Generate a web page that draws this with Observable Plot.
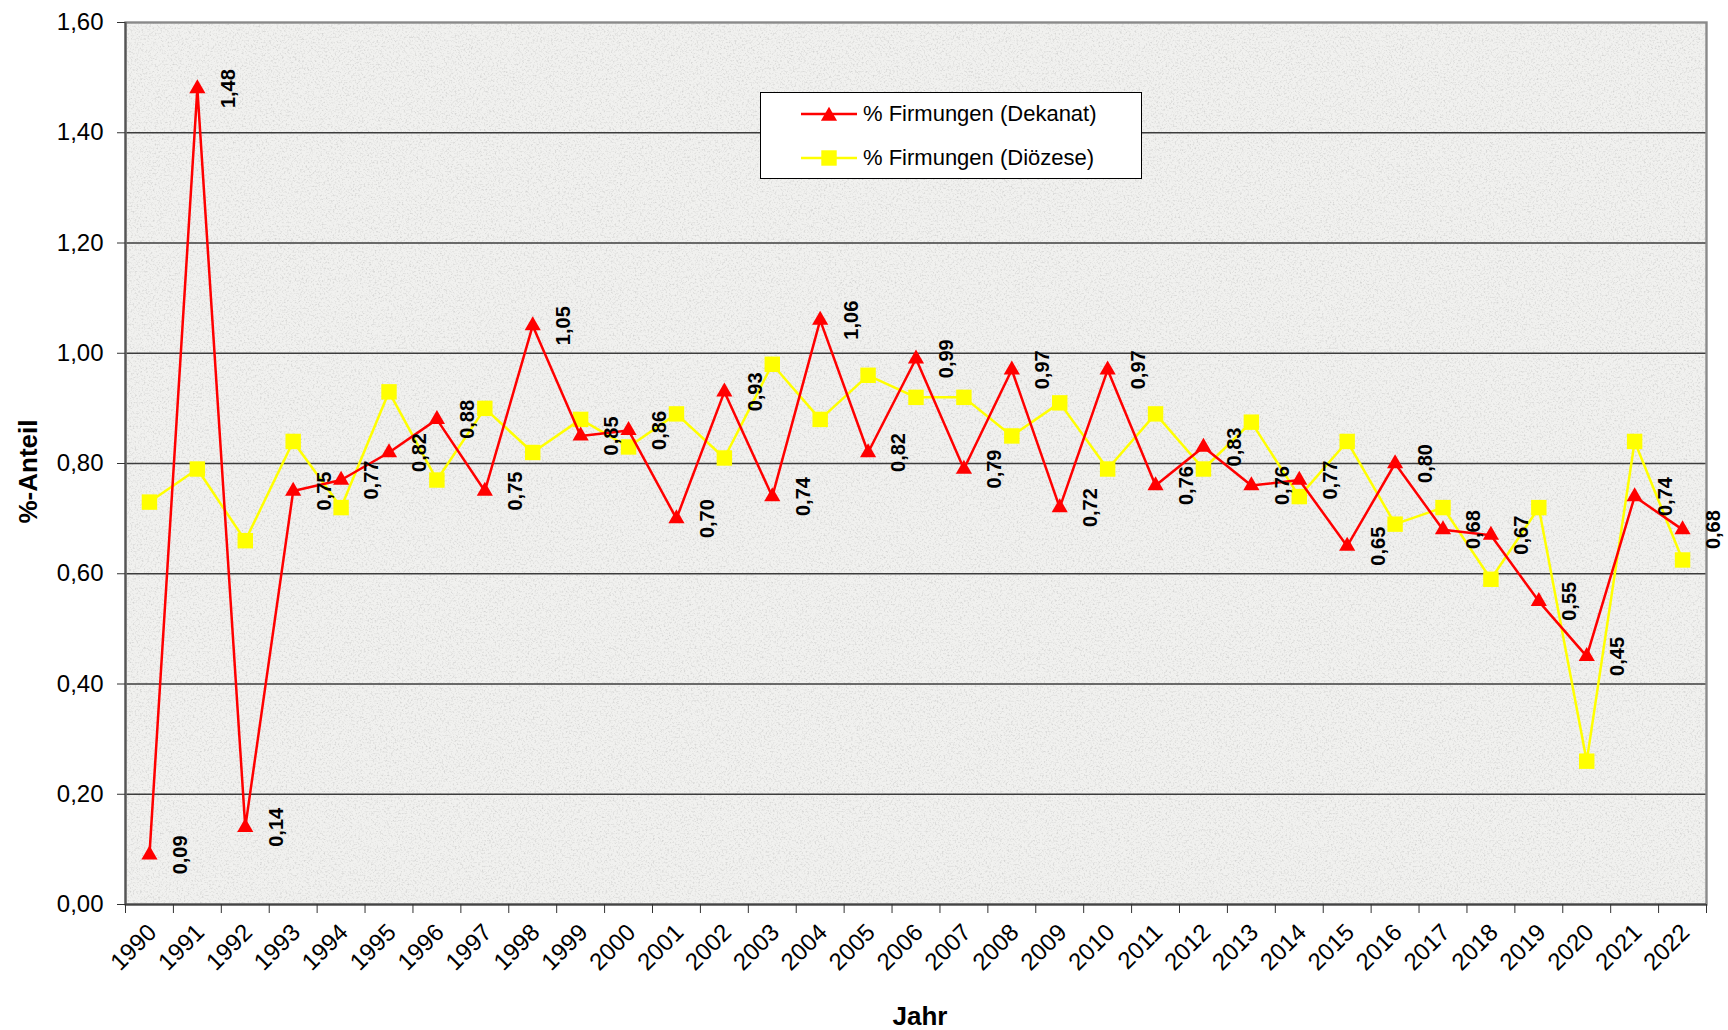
<!DOCTYPE html>
<html>
<head>
<meta charset="utf-8">
<script src="https://cdn.jsdelivr.net/npm/d3@7"></script>
<script src="https://cdn.jsdelivr.net/npm/@observablehq/plot@0.6"></script>
<style>
  html, body { margin: 0; padding: 0; background: #fff; }
  #wrap { position: relative; width: 1728px; height: 1030px; font-family: Arial, "Liberation Sans", sans-serif; }
  #legend { position: absolute; left: 760px; top: 92px; width: 380px; height: 85px; background: #fff; border: 1.5px solid #000; }
  .lrow { position: absolute; left: 0; height: 30px; display: flex; align-items: center; font-size: 22px; color: #000; }
  .lrow svg { margin-left: 40px; margin-right: 6px; }
</style>
</head>
<body>
<div id="wrap"></div>
<script>
// ---- data ----
const years = [1990, 1991, 1992, 1993, 1994, 1995, 1996, 1997, 1998, 1999, 2000,
  2001, 2002, 2003, 2004, 2005, 2006, 2007, 2008, 2009, 2010, 2011, 2012,
  2013, 2014, 2015, 2016, 2017, 2018, 2019, 2020, 2021, 2022];
const dekanat = [0.09, 1.48, 0.14, 0.75, 0.77, 0.82, 0.88, 0.75, 1.05, 0.85, 0.86,
  0.70, 0.93, 0.74, 1.06, 0.82, 0.99, 0.79, 0.97, 0.72, 0.97, 0.76, 0.83,
  0.76, 0.77, 0.65, 0.80, 0.68, 0.67, 0.55, 0.45, 0.74, 0.68];
const dioezese = [0.73, 0.79, 0.66, 0.84, 0.72, 0.93, 0.77, 0.90, 0.82, 0.88, 0.83,
  0.89, 0.81, 0.98, 0.88, 0.96, 0.92, 0.92, 0.85, 0.91, 0.79, 0.89, 0.79,
  0.875, 0.74, 0.84, 0.69, 0.72, 0.59, 0.72, 0.26, 0.84, 0.625];
const yTicks = [0, 0.2, 0.4, 0.6, 0.8, 1.0, 1.2, 1.4, 1.6];
const seriesNames = ["% Firmungen (Dekanat)", "% Firmungen (Diözese)"];

const dek = years.map((y, i) => ({year: y, v: dekanat[i]}));
const dio = years.map((y, i) => ({year: y, v: dioezese[i]}));
const boundaries = years.map(y => y - 0.5).concat([years[years.length - 1] + 0.5]);
const fmt = d => d.toFixed(2).replace(".", ",");

const RED = "#ff0000", YEL = "#ffff00";
const FONT = 'Arial, "Liberation Sans", sans-serif';
const TRI_R = 6.0, SQ_R = 8.7;

const chart = Plot.plot({
  width: 1728,
  height: 1030,
  marginLeft: 125,
  marginRight: 22,
  marginTop: 22,
  marginBottom: 126,
  style: {fontFamily: FONT, background: "#fff", color: "#000", overflow: "visible"},
  x: {type: "linear", domain: [1989.5, 2022.5]},
  y: {domain: [0, 1.6]},
  marks: [
    Plot.frame({fill: "#f1f1ef", stroke: "none"}),
    Plot.gridY(yTicks.filter(t => t > 0 && t < 1.6), {stroke: "#3c3c3c", strokeOpacity: 1, strokeWidth: 1.4}),
    Plot.frame({stroke: "#8a8a8a", strokeWidth: 2.4, fill: "none"}),
    Plot.ruleX([1989.5], {stroke: "#555", strokeWidth: 2}),
    Plot.ruleY([0], {stroke: "#444", strokeWidth: 2}),
    Plot.axisY({ticks: yTicks, tickFormat: fmt, tickSize: 8, tickPadding: 14, fontSize: 24, label: null, stroke: "#333"}),
    Plot.axisX({ticks: boundaries, tickFormat: () => "", tickSize: 9, label: null, stroke: "#333"}),
    Plot.text(years, {x: d => d, frameAnchor: "bottom", dx: 3, dy: 24, rotate: -45,
      textAnchor: "end", lineAnchor: "middle", text: d => String(d), fontSize: 24}),
    // series: Diözese
    Plot.line(dio, {x: "year", y: "v", stroke: YEL, strokeWidth: 2.5}),
    Plot.dot(dio, {x: "year", y: "v", symbol: "square", r: SQ_R, fill: YEL, stroke: "none"}),
    // series: Dekanat
    Plot.line(dek, {x: "year", y: "v", stroke: RED, strokeWidth: 2.5}),
    Plot.dot(dek, {x: "year", y: "v", symbol: "triangle", r: TRI_R, fill: RED, stroke: "none"}),
    Plot.text(dek, {x: "year", y: "v", text: d => fmt(d.v), rotate: -90, dx: 31,
      textAnchor: "middle", lineAnchor: "middle", fontWeight: "bold", fontSize: 20}),
    // axis titles
    Plot.text(["%-Anteil"], {frameAnchor: "left", dx: -97, dy: 8, rotate: -90,
      text: d => d, fontWeight: "bold", fontSize: 26, textAnchor: "middle", lineAnchor: "middle"}),
    Plot.text(["Jahr"], {frameAnchor: "bottom", dx: 4, dy: 112,
      text: d => d, fontWeight: "bold", fontSize: 26, textAnchor: "middle", lineAnchor: "middle"})
  ]
});

// granite-like texture for the plot area
const svg = d3.select(chart);
const defs = svg.insert("defs", ":first-child");
const f = defs.append("filter").attr("id", "grain")
  .attr("filterUnits", "objectBoundingBox").attr("x", 0).attr("y", 0).attr("width", 1).attr("height", 1);
f.append("feTurbulence").attr("type", "fractalNoise").attr("baseFrequency", 0.55).attr("numOctaves", 3).attr("seed", 7).attr("result", "t");
f.append("feColorMatrix").attr("in", "t").attr("type", "matrix")
  .attr("values", "0 0 0 0 0.66  0 0 0 0 0.66  0 0 0 0 0.65  2.6 0 0 0 -1.25").attr("result", "spots");
f.append("feComposite").attr("in", "spots").attr("in2", "SourceGraphic").attr("operator", "over");
const frameRect = chart.querySelector('rect[aria-label="frame"]') || chart.querySelector('[aria-label="frame"] rect');
if (frameRect) frameRect.setAttribute("filter", "url(#grain)");

const wrap = document.getElementById("wrap");
wrap.appendChild(chart);

// legend
const legend = document.createElement("div");
legend.id = "legend";
const rows = [
  {name: seriesNames[0], color: RED, shape: "tri", top: 6},
  {name: seriesNames[1], color: YEL, shape: "sq", top: 50}
];
for (const r of rows) {
  const row = document.createElement("div");
  row.className = "lrow";
  row.style.top = r.top + "px";
  const marker = r.shape === "tri"
    ? `<path d="${d3.symbol(d3.symbolTriangle, TRI_R * TRI_R * Math.PI)()}" transform="translate(28,17)" fill="${r.color}"/>`
    : `<path d="${d3.symbol(d3.symbolSquare, SQ_R * SQ_R * Math.PI)()}" transform="translate(28,15)" fill="${r.color}"/>`;
  row.innerHTML = `<svg width="56" height="30"><line x1="0" x2="56" y1="15" y2="15" stroke="${r.color}" stroke-width="2.5"/>${marker}</svg><span>${r.name}</span>`;
  legend.appendChild(row);
}
wrap.appendChild(legend);
</script>
</body>
</html>
